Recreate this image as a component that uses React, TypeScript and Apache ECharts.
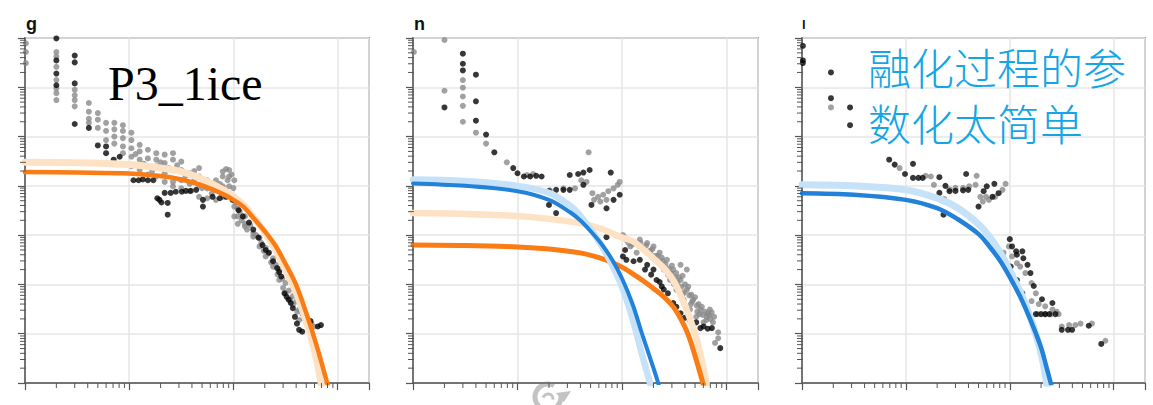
import React, { useEffect, useRef } from "react";
import * as echarts from "echarts";

// ---------- axes ----------
const xRange = [1, 2000];
const yRange = [1, 1e7];
const xMinorTicks = [2, 3, 4, 5, 6, 7, 8, 9, 20, 30, 40, 50, 60, 70, 80, 90, 200, 300, 400, 500, 600, 700, 800, 900];
const yMinorTicks = [
  2, 3, 4, 5, 6, 7, 8, 9, 20, 30, 40, 50, 60, 70, 80, 90, 200, 300, 400, 500, 600, 700, 800, 900,
  2e3, 3e3, 4e3, 5e3, 6e3, 7e3, 8e3, 9e3, 2e4, 3e4, 4e4, 5e4, 6e4, 7e4, 8e4, 9e4,
  2e5, 3e5, 4e5, 5e5, 6e5, 7e5, 8e5, 9e5, 2e6, 3e6, 4e6, 5e6, 6e6, 7e6, 8e6, 9e6,
];

// ---------- texts ----------
const panelLabels = ["g", "n", "l"];
const annotationLatin = "P3_1ice";
const annotationCJK = ["融化过程的参", "数化太简单"];

// ---------- panel g ----------
const p1Black = [
  [2, 9.8e6], [2, 3.5e6], [2, 1.9e6], [2, 1.1e6], [3, 4.4e6], [3, 3.2e6], [3, 1.2e6], [3, 1.8e5],
  [4.1, 1.5e5], [5, 6.6e4], [6, 6.3e4], [6, 4.6e4], [7.1, 3.4e4], [8.1, 3.9e4],
  [11, 1.3e4], [12.3, 1.3e4], [13.5, 1.35e4], [15.1, 1.3e4], [17, 1.3e4],
  [18.6, 5.6e3], [19.5, 5.2e3], [20.4, 4.6e3], [21.9, 7.2e3], [23.4, 4.5e3], [23.4, 2.6e3],
  [25, 7.2e3], [28, 7.6e3], [32, 7.6e3], [35, 7.9e3], [39, 7.9e3], [44, 8.3e3],
  [51, 3.8e3], [51, 5.2e3], [63, 6.0e3], [74, 5.6e3], [85, 6.0e3], [98, 5.2e3],
  [112, 3.2e3], [123, 2.4e3], [141, 1.8e3], [155, 1.3e3], [174, 890], [190, 630], [204, 500],
  [219, 440], [240, 295], [263, 214], [275, 178], [288, 145], [309, 66], [324, 56], [339, 49],
  [355, 42], [372, 33], [389, 22], [407, 16], [427, 12], [457, 11], [550, 18], [646, 14], [692, 15],
];
const p1Gray = [
  [1.02, 7.8e6], [1.02, 5.2e6], [1.02, 3.1e6],
  [2, 5.2e6], [2, 4.2e6], [2, 2.6e6], [2, 1.4e6], [2, 9.5e5], [2, 7.6e5], [2, 5.5e5],
  [3, 8.9e5], [3, 6.9e5], [3, 5.5e5], [3, 4.1e5],
  [4.1, 4.8e5], [4.1, 3.2e5], [4.1, 2.3e5], [4.1, 1.9e5],
  [5, 3.0e5], [5, 2.2e5], [5, 1.5e5], [6, 1.9e5], [6, 1.3e5], [6, 8.5e4],
  [7.2, 1.9e5], [7.2, 1.4e5], [7.2, 1.0e5], [7.2, 7.2e4],
  [8.7, 1.7e5], [8.7, 1.3e5], [8.7, 9.3e4], [8.7, 6.3e4], [8.7, 4.6e4],
  [10.5, 1.2e5], [10.5, 8.5e4], [10.5, 5.8e4], [10.5, 3.9e4], [10.5, 2.5e4],
  [11.5, 4.4e4], [12.6, 6.8e4], [12.6, 5.0e4], [12.6, 3.4e4], [12.6, 2.1e4], [13.8, 2.8e4],
  [15.1, 5.4e4], [15.1, 3.6e4], [15.1, 2.5e4], [15.1, 1.7e4], [16.6, 2.0e4],
  [18.2, 4.6e4], [18.2, 3.4e4], [18.2, 2.5e4], [18.2, 1.55e4], [20, 3.0e4],
  [21.9, 4.3e4], [21.9, 2.9e4], [21.9, 1.8e4], [21.9, 1.2e4], [24, 2.3e4],
  [26.3, 4.6e4], [26.3, 3.4e4], [26.3, 2.1e4], [26.3, 1.2e4], [26.3, 9.8e3], [28.8, 2.6e4],
  [31.6, 3.1e4], [31.6, 2.1e4], [31.6, 1.3e4], [31.6, 8.9e3], [34.7, 1.6e4],
  [38, 1.8e4], [38, 1.1e4], [38, 7.8e3], [42, 2.0e4], [42, 1.3e4],
  [46.8, 2.3e4], [46.8, 1.55e4], [46.8, 1.05e4], [46.8, 6.0e3], [50, 9.0e3],
  [56, 1.3e4], [56, 8.9e3], [56, 5.6e3], [60, 1.1e4], [62, 7.0e3],
  [68, 1.3e4], [68, 8.3e3], [68, 5.2e3], [74, 1.1e4],
  [79, 1.95e4], [79, 1.55e4], [79, 9.8e3], [79, 6.0e3], [85, 2.2e4], [88, 1.3e4],
  [91, 2.1e4], [91, 1.55e4], [91, 9.8e3], [91, 7.1e3], [96, 1.7e4], [100, 9.0e3],
  [102, 1.3e4], [102, 6.0e3], [102, 3.8e3], [102, 2.4e3], [105, 4.6e3],
  [110, 3.5e3], [110, 2.4e3], [110, 1.7e3], [115, 3.0e3], [120, 2.0e3],
  [129, 2.4e3], [129, 1.7e3], [129, 1.5e3], [135, 1.3e3], [145, 1.6e3],
  [155, 1.1e3], [155, 930], [165, 1.0e3], [178, 870], [178, 590], [185, 700], [195, 480],
  [204, 550], [204, 370], [215, 420], [230, 280], [240, 340], [240, 230], [255, 250],
  [265, 160], [275, 200], [275, 123], [295, 130], [300, 85], [316, 107], [316, 66],
  [340, 75], [350, 50], [372, 58], [372, 39], [400, 45], [410, 28], [427, 31], [427, 19],
  [460, 25], [480, 20], [501, 22], [501, 17], [560, 16], [603, 14],
];
const p1Orange = [
  [1, 1.9e4], [3.16, 1.86e4], [10, 1.78e4], [20, 1.58e4], [31.6, 1.35e4], [50.1, 1.02e4],
  [79.4, 6.8e3], [100, 5.2e3], [126, 3.7e3], [158, 2.15e3], [200, 1.2e3], [251, 630],
  [316, 263], [398, 100], [501, 26], [631, 5.6], [794, 1.0], [891, 0.4],
];
const p1Peach = [
  [1, 3.0e4], [3.16, 2.95e4], [10, 2.7e4], [20, 2.3e4], [31.6, 1.95e4], [50.1, 1.38e4],
  [79.4, 8.3e3], [100, 6.0e3], [126, 4.0e3], [158, 2.2e3], [200, 1.15e3], [251, 525],
  [316, 200], [398, 71], [501, 17.8], [575, 6.5], [631, 2.8], [708, 0.8],
];

// ---------- panel n ----------
const p2Black = [
  [3, 4.8e6], [3, 3.0e6], [3, 2.2e6], [4, 1.8e6], [2, 3.9e5], [4, 5.2e5], [4, 2.1e5],
  [5, 1.1e5], [6, 4.8e4], [9.1, 2.3e4], [10, 1.8e4], [11.5, 1.55e4], [13.2, 1.55e4],
  [15.1, 1.6e4], [17, 1.55e4], [20, 7.8e3], [20, 4.1e3], [23.4, 2.8e3], [23.4, 8.3e3],
  [27.5, 8.3e3], [31.6, 8.3e3], [31.6, 1.66e4], [38, 1.74e4], [42.7, 1.86e4], [49, 2.1e4],
  [42.7, 1.05e4], [51, 4.1e3], [71, 3.5e3], [78, 1.86e4], [83, 5.2e3], [95, 6.6e3],
  [71, 910], [102, 370], [107, 500], [110, 316], [129, 295], [148, 316], [166, 200],
  [174, 250], [190, 158], [200, 200], [214, 123], [229, 112], [240, 91], [251, 79],
  [275, 66], [309, 42], [331, 35], [363, 26], [398, 21], [447, 19], [513, 17], [562, 13],
  [603, 14], [661, 12.6], [724, 13], [871, 5.1],
];
const p2Gray = [
  [1.02, 5.2e6], [2, 9.1e6], [2, 8.5e5], [3, 1.4e6], [3, 9.8e5], [3, 6.5e5], [3, 4.2e5],
  [3, 2.0e5], [4, 1.2e5], [5, 7.2e4], [7.9, 3.0e4], [12.3, 1.66e4], [14.1, 1.74e4],
  [20.4, 8.1e3], [27.5, 8.9e3], [35.5, 8.9e3], [40.7, 1.3e4], [45.7, 1.2e4], [47.9, 4.8e4],
  [52, 7.1e3], [54, 5.2e3], [59, 6.0e3], [62, 4.8e3], [66, 6.6e3], [71, 5.2e3], [74, 7.8e3],
  [83, 8.9e3], [91, 1.05e4], [95, 1.2e4],
  [102, 1.0e3], [105, 900], [110, 800], [115, 700], [120, 590], [126, 650], [132, 710],
  [138, 440], [145, 600], [148, 810], [150, 700], [158, 560], [165, 500], [170, 620],
  [174, 690], [174, 440], [185, 480], [190, 400], [195, 520], [200, 590], [210, 380],
  [214, 316], [220, 380], [229, 440], [229, 282], [240, 350], [245, 300], [251, 200],
  [260, 260], [269, 316], [275, 158], [280, 210], [288, 123], [295, 170], [300, 240],
  [309, 200], [316, 100], [320, 140], [330, 170], [331, 78], [340, 110], [350, 140],
  [363, 123], [363, 250], [370, 90], [380, 150], [380, 63], [389, 49], [395, 70], [400, 100],
  [417, 78], [417, 200], [430, 90], [440, 60], [447, 31], [457, 40], [460, 62], [470, 45],
  [479, 49], [500, 55], [513, 22], [520, 37], [525, 28], [540, 40], [550, 25], [562, 31],
  [580, 35], [590, 24], [603, 17], [620, 28], [640, 19], [646, 22], [660, 26], [680, 24],
  [692, 31], [700, 20], [720, 27], [741, 17], [760, 22], [776, 6.5], [832, 10.7], [832, 8.1],
];
const p2Orange = [
  [1, 631], [3.16, 617], [10, 575], [20, 525], [39.8, 437], [63.1, 339], [79.4, 282],
  [100, 224], [126, 166], [158, 120], [200, 83], [251, 56], [316, 33], [398, 14],
  [447, 7.6], [501, 3.5], [603, 0.9],
];
const p2Peach = [
  [1, 2.8e3], [3.16, 2.7e3], [10, 2.45e3], [20, 2.14e3], [39.8, 1.74e3], [63.1, 1.35e3],
  [100, 890], [126, 760], [158, 525], [200, 339], [251, 214], [316, 112], [398, 38],
  [447, 20], [501, 10], [562, 3.8], [661, 0.8],
];
const p2LightBlue = [
  [1, 1.35e4], [3.16, 1.26e4], [10, 1.0e4], [20, 7.2e3], [31.6, 4.0e3], [39.8, 2.5e3],
  [50.1, 1.32e3], [63.1, 630], [79.4, 263], [100, 89], [126, 20], [158, 3.3], [191, 0.8],
];
const p2Blue = [
  [1, 1.12e4], [3.16, 1.0e4], [10, 7.8e3], [20, 5.2e3], [31.6, 2.95e3], [39.8, 2.0e3],
  [50.1, 1.2e3], [63.1, 676], [79.4, 331], [100, 132], [126, 40], [158, 8.9], [200, 2.0],
  [229, 0.8],
];

// ---------- panel l ----------
const p3Black = [
  [1.02, 6.9e6], [1.02, 3.5e6], [1.02, 3.1e6], [1.9, 2.0e6], [1.9, 6.0e5], [2.9, 3.9e5],
  [2.9, 1.7e5], [6.9, 3.4e4], [7.8, 2.7e4], [9.8, 1.74e4], [11.7, 2.8e4], [11.7, 1.45e4],
  [13.2, 1.45e4], [14.5, 1.45e4], [21, 1.5e4], [21, 7.2e3], [23, 2.6e3], [24, 1.0e4],
  [26.3, 7.8e3], [30, 7.9e3], [35.5, 8.1e3], [39.8, 8.3e3], [38, 1.74e4], [50, 3.8e3],
  [56, 7.8e3], [60, 9.8e3], [71, 1.1e4], [68, 6.0e3], [78, 7.1e3],
  [100, 830], [105, 590], [115, 470], [117, 400], [132, 470], [135, 340], [148, 250],
  [158, 170], [170, 93], [102, 230], [132, 66], [117, 123], [204, 50], [257, 42],
  [219, 25], [178, 25], [200, 25], [240, 25], [275, 25], [316, 12], [363, 12], [398, 12],
  [575, 14.5], [759, 6.2],
];
const p3Gray = [
  [1.9, 3.9e5], [8.7, 2.3e4], [15.5, 1.6e4], [17.4, 1.55e4], [18.6, 1.05e4], [23.4, 5.4e3],
  [26.3, 8.5e3], [30, 9.1e3], [35.5, 9.1e3], [40.7, 9.8e3], [46.8, 1.05e4], [47.9, 1.6e4],
  [52, 6.0e3], [55, 4.8e3], [59, 6.0e3], [63, 5.2e3], [72, 6.0e3], [85, 8.3e3], [91, 1.1e4],
  [87, 440], [98, 590], [105, 370], [117, 270], [126, 230], [141, 170], [162, 107], [178, 66],
  [162, 46], [190, 40], [219, 36], [257, 31], [282, 28], [186, 25], [219, 25], [251, 25],
  [295, 25], [316, 14], [372, 15], [427, 15], [479, 16], [617, 16], [832, 7.2],
];
const p3LightBlue = [
  [1, 1.05e4], [3.16, 1.0e4], [10, 8.3e3], [20, 5.6e3], [31.6, 3.55e3], [50.1, 1.66e3],
  [63.1, 955], [79.4, 468], [100, 191], [126, 71], [158, 21], [200, 4.0], [229, 0.8],
];
const p3Blue = [
  [1, 7.1e3], [3.16, 6.6e3], [10, 5.2e3], [20, 3.55e3], [31.6, 2.1e3], [50.1, 1.05e3],
  [63.1, 603], [79.4, 316], [100, 141], [126, 56], [158, 19], [200, 5.2], [224, 2.2],
  [251, 0.9],
];

// ---------- style ----------
const C = {
  black: "#050505",
  gray: "#8a8a8a",
  orange: "#fb7b14",
  peach: "#fde2c6",
  blue: "#2281d9",
  lightBlue: "#c5e2f8",
  axis: "#555555",
  border: "#9a9a9a",
  split: "#e6e6e6",
  cjk: "#14a5e6",
};
const PLOT_TOP = 38;
const PLOT_H = 345;
const DOT = 6;
const panels = [
  { left: 25, width: 344, gray: p1Gray, black: p1Black, curves: [[p1Peach, C.peach, 7], [p1Orange, C.orange, 4.5]] },
  {
    left: 413, width: 345, gray: p2Gray, black: p2Black,
    curves: [[p2Peach, C.peach, 6.5], [p2Orange, C.orange, 5], [p2LightBlue, C.lightBlue, 6.5], [p2Blue, C.blue, 4]],
  },
  { left: 802, width: 343, gray: p3Gray, black: p3Black, curves: [[p3LightBlue, C.lightBlue, 7], [p3Blue, C.blue, 4.5]] },
];

function buildOption() {
  const grid: any[] = [];
  const xAxis: any[] = [];
  const yAxis: any[] = [];
  const series: any[] = [];
  panels.forEach((p, i) => {
    grid.push({
      left: p.left, top: PLOT_TOP, width: p.width, height: PLOT_H,
      show: true, borderColor: C.border, borderWidth: 2, backgroundColor: "transparent",
      containLabel: false, outerBoundsMode: "none",
    });
    const common = {
      type: "log", logBase: 10, gridIndex: i,
      axisLine: { show: true, onZero: false, lineStyle: { color: C.axis, width: 1.5 } },
      axisTick: { show: true, length: 7, lineStyle: { color: C.axis, width: 1.2 } },
      axisLabel: { show: false },
      splitLine: { show: true, lineStyle: { color: C.split, width: 1.5 } },
      minorTick: { show: false },
    };
    xAxis.push({ ...common, min: xRange[0], max: xRange[1] });
    yAxis.push({ ...common, min: yRange[0], max: yRange[1] });

    series.push({
      type: "custom", xAxisIndex: i, yAxisIndex: i, silent: true, clip: false, z: 4,
      data: xMinorTicks.map((v) => [v, yRange[0]]),
      renderItem: (_params: any, api: any) => {
        const c = api.coord([api.value(0), api.value(1)]);
        return { type: "line", shape: { x1: c[0], y1: c[1], x2: c[0], y2: c[1] + 5 }, style: { stroke: C.axis, lineWidth: 1 } };
      },
    });
    series.push({
      type: "custom", xAxisIndex: i, yAxisIndex: i, silent: true, clip: false, z: 4,
      data: yMinorTicks.map((v) => [xRange[0], v]),
      renderItem: (_params: any, api: any) => {
        const c = api.coord([api.value(0), api.value(1)]);
        return { type: "line", shape: { x1: c[0] - 5, y1: c[1], x2: c[0] + 1, y2: c[1] }, style: { stroke: C.axis, lineWidth: 1 } };
      },
    });
    series.push({
      type: "scatter", xAxisIndex: i, yAxisIndex: i, data: p.gray, symbolSize: DOT,
      itemStyle: { color: C.gray }, silent: true, z: 2,
    });
    series.push({
      type: "scatter", xAxisIndex: i, yAxisIndex: i, data: p.black, symbolSize: DOT,
      itemStyle: { color: C.black }, silent: true, z: 2,
    });
    p.curves.forEach(([data, color, width]: any, k: number) => {
      series.push({
        type: "line", xAxisIndex: i, yAxisIndex: i, data, smooth: 0.35, symbol: "none",
        lineStyle: { color, width, cap: "round" }, silent: true, clip: true, z: 3 + k * 0.01,
      });
    });
  });

  const labelX = [26, 414, 802];
  const graphic: any[] = panelLabels.map((t, i) => ({
    type: "text", x: labelX[i], y: i === 2 ? 24 : 23.5, z: 10,
    style: {
      text: t, fill: "#111", fontSize: i === 2 ? 13 : 18, fontWeight: "bold",
      fontFamily: '"Liberation Sans", Arial, sans-serif', align: "left", verticalAlign: "middle",
    },
  }));
  graphic.push({
    type: "text", x: 108, y: 83, z: 10,
    style: {
      text: annotationLatin, fill: "#000", fontSize: 48,
      fontFamily: '"Liberation Serif", "Times New Roman", serif', align: "left", verticalAlign: "middle",
    },
  });
  annotationCJK.forEach((t, k) => {
    graphic.push({
      type: "text", x: 868, y: k === 0 ? 66 : 122, z: 10,
      style: {
        text: t, fill: C.cjk, fontSize: 43, fontWeight: 300, lineHeight: 46,
        fontFamily: '"Noto Sans CJK SC", sans-serif', align: "left", verticalAlign: "middle",
      },
    });
  });
  // watermark-like refresh icon under panel n
  graphic.push({
    type: "group", z: 1,
    children: [
      {
        type: "arc", shape: { cx: 548, cy: 397, r: 13, startAngle: -0.3, endAngle: 5.2, clockwise: true },
        style: { stroke: "#c3c3c3", lineWidth: 5, fill: null },
      },
      {
        type: "arc", shape: { cx: 548, cy: 399, r: 5, startAngle: 3.4, endAngle: 6.4, clockwise: true },
        style: { stroke: "#c3c3c3", lineWidth: 3, fill: null },
      },
      { type: "polygon", shape: { points: [[556, 393], [571, 391], [564, 402]] }, style: { fill: "#c3c3c3" } },
    ],
  });

  return { animation: false, backgroundColor: "#ffffff", grid, xAxis, yAxis, series, graphic };
}

export default function App() {
  const ref = useRef<HTMLDivElement>(null);
  useEffect(() => {
    if (!ref.current) return;
    const chart = echarts.init(ref.current, null, { renderer: "svg" });
    chart.setOption(buildOption() as any);
    return () => chart.dispose();
  }, []);
  return (
    <div
      ref={ref}
      style={{ position: "absolute", left: 0, top: 0, width: 1153, height: 405, background: "#fff" }}
    />
  );
}
